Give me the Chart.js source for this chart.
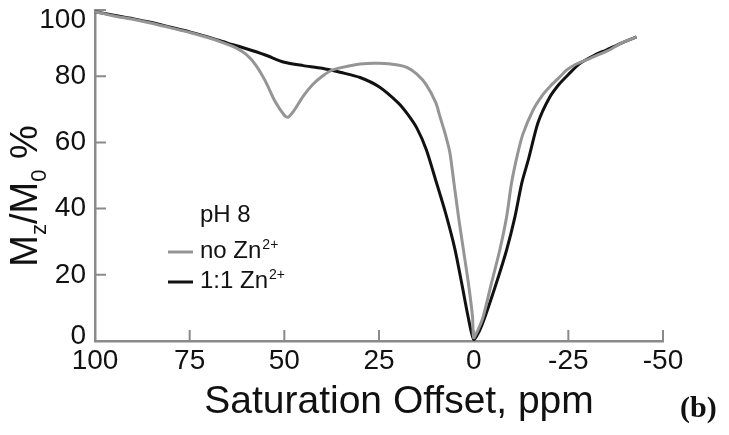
<!DOCTYPE html>
<html>
<head>
<meta charset="utf-8">
<script src="https://cdn.jsdelivr.net/npm/chart.js@4"></script>
<style>
  html, body { margin: 0; padding: 0; background: #fff; }
</style>
</head>
<body>
<canvas id="chart" width="729" height="435"></canvas>
<script>
// saturation offset (ppm) and Mz/M0 (%)
const offsetNoZn = [100, 95, 90, 85, 80, 75, 70, 65, 62.5, 60, 57.5, 55, 52.5, 50, 49, 47.5, 45, 42.5, 40, 37.5, 35, 30, 25, 20, 17.5, 15, 12.5, 10, 8.9, 7.5, 6.3, 5.2, 4.0, 2.7, 1.4, 0.3, 0, -1, -2.5, -4.7, -6.9, -8.7, -10, -11.5, -13, -15.7, -18, -20.1, -22.5, -24.6, -27, -29.8, -33, -36, -39, -43];
const signalNoZn = [99.5, 98.2, 97.2, 96.0, 94.6, 93.2, 91.6, 89.6, 88.4, 86.5, 83.3, 78.5, 72.5, 68.2, 67.6, 69.5, 74.0, 77.5, 80.0, 81.8, 82.6, 83.7, 83.9, 83.4, 82.6, 80.6, 77.4, 72.0, 67.8, 62.5, 57.0, 47.7, 37.5, 27.5, 17.5, 7.3, 1.0, 3.0, 7.3, 17.5, 27.5, 37.5, 47.7, 56.0, 62.5, 69.8, 74.0, 76.8, 79.5, 81.9, 83.6, 84.9, 86.5, 88.0, 90.0, 91.9];

const offsetZn = [100, 95, 90, 85, 80, 75, 70, 65, 60, 55, 50, 45, 40, 35, 30, 25, 20, 17.5, 15, 12.5, 10, 7.5, 5, 3, 1.5, 0, -1.5, -3, -6, -8.7, -10.9, -12.7, -14.5, -17, -20, -22.5, -25, -28, -32, -35, -39, -43];
const signalZn = [99.5, 98.4, 97.4, 96.2, 94.8, 93.4, 91.8, 90.0, 88.3, 86.4, 84.2, 83.2, 82.4, 81.1, 79.6, 76.8, 72.0, 68.6, 64.3, 57.8, 48.5, 39.0, 28.0, 16.5, 7.5, 0.5, 3.0, 7.3, 17.5, 27.5, 37.5, 47.7, 55.0, 66.0, 73.5, 77.5, 80.5, 83.8, 86.4, 87.9, 90.0, 91.9];

const xTicks = [100, 75, 50, 25, 0, -25, -50];
const yTicks = [0, 20, 40, 60, 80, 100];

const axisGray = '#8a8a8a';
const lightLine = '#959595';
const darkLine = '#111111';
const sans = 'Arial, "Liberation Sans", sans-serif';

function toPoints(xs, ys) {
    return xs.map((v, i) => ({ x: v, y: ys[i] }));
}

// inward ticks, axis titles, legend and panel tag
const decorations = {
    id: 'decorations',
    beforeDatasetsDraw(chart) {
        const { ctx, chartArea: a, scales: { x, y } } = chart;
        ctx.save();
        ctx.strokeStyle = axisGray;
        ctx.lineWidth = 2;
        ctx.beginPath();
        xTicks.forEach(v => {
            const px = x.getPixelForValue(v);
            ctx.moveTo(px, a.bottom);
            ctx.lineTo(px, a.bottom - 11);
        });
        yTicks.forEach(v => {
            const py = y.getPixelForValue(v);
            ctx.moveTo(a.left, py);
            ctx.lineTo(a.left + 11, py);
        });
        ctx.stroke();
        ctx.restore();
    },
    afterDraw(chart) {
        const { ctx } = chart;
        ctx.save();
        ctx.fillStyle = '#111';
        ctx.textBaseline = 'alphabetic';

        // x title
        ctx.font = '39px ' + sans;
        ctx.textAlign = 'center';
        ctx.fillText('Saturation Offset, ppm', 399, 413);

        // y title with subscripts
        const big = '38px ' + sans;
        const small = '22px ' + sans;
        const parts = [['M', big, 0], ['z', small, 9], ['/M', big, 0], ['0', small, 9], [' %', big, 0]];
        let total = 0;
        parts.forEach(p => { ctx.font = p[1]; total += ctx.measureText(p[0]).width; });
        ctx.translate(37, 196);
        ctx.rotate(-Math.PI / 2);
        ctx.textAlign = 'left';
        let cx = -total / 2;
        parts.forEach(p => {
            ctx.font = p[1];
            ctx.fillText(p[0], cx, p[2]);
            cx += ctx.measureText(p[0]).width;
        });
        ctx.setTransform(1, 0, 0, 1, 0, 0);

        // legend
        const lf = '24px ' + sans;
        const sf = '14px ' + sans;
        ctx.font = lf;
        ctx.fillText('pH 8', 200, 222);
        const rows = [['no Zn', lightLine, 258], ['1:1 Zn', darkLine, 288]];
        rows.forEach(r => {
            ctx.strokeStyle = r[1];
            ctx.lineWidth = 3;
            ctx.beginPath();
            ctx.moveTo(168, r[2] - 6);
            ctx.lineTo(193, r[2] - 6);
            ctx.stroke();
            ctx.font = lf;
            ctx.fillText(r[0], 200, r[2]);
            const w = ctx.measureText(r[0]).width;
            ctx.font = sf;
            ctx.fillText('2+', 200 + w + 1, r[2] - 9);
        });

        // panel tag
        ctx.font = 'bold 30px "Times New Roman", "Liberation Serif", serif';
        ctx.fillText('(b)', 680, 417);
        ctx.restore();
    }
};

const ctx = document.querySelector('#chart').getContext('2d');
const chart = new Chart(ctx, {
    type: 'line',
    data: {
        datasets: [{
            label: 'no Zn2+',
            data: toPoints(offsetNoZn, signalNoZn),
            borderColor: lightLine,
            borderWidth: 3,
            pointRadius: 0,
            tension: 0.25
        }, {
            label: '1:1 Zn2+',
            data: toPoints(offsetZn, signalZn),
            borderColor: darkLine,
            borderWidth: 3,
            pointRadius: 0,
            tension: 0.25
        }]
    },
    options: {
        responsive: false,
        animation: false,
        layout: { padding: { left: 0, top: 10, right: 66, bottom: 0 } },
        plugins: { legend: { display: false }, tooltip: { enabled: false } },
        scales: {
            x: {
                type: 'linear',
                reverse: true,
                min: -50,
                max: 100,
                afterFit: s => { s.height = 94; s.paddingLeft = 0; s.paddingRight = 0; },
                afterBuildTicks: s => { s.ticks = xTicks.map(v => ({ value: v })); },
                grid: { display: false, drawTicks: false },
                border: { color: axisGray, width: 2.5 },
                ticks: {
                    color: '#111',
                    padding: 3,
                    maxRotation: 0,
                    font: { family: sans, size: 28 }
                }
            },
            y: {
                min: 0,
                max: 100,
                afterFit: s => { s.width = 95; s.paddingTop = 0; s.paddingBottom = 0; },
                afterBuildTicks: s => { s.ticks = yTicks.map(v => ({ value: v })); },
                grid: { display: false, drawTicks: false },
                border: { color: axisGray, width: 2.5 },
                ticks: {
                    color: '#111',
                    padding: 9,
                    // end labels sit a little inside the axis, as in the figure
                    callback: v => v === 100 ? ['', '100'] : (v === 0 ? ['0', ''] : v),
                    font: c => ({
                        family: sans,
                        size: 28,
                        lineHeight: c.tick && c.tick.value === 100 ? 0.7 : (c.tick && c.tick.value === 0 ? 0.36 : 1.2)
                    })
                }
            }
        }
    },
    plugins: [decorations]
});
</script>
</body>
</html>
